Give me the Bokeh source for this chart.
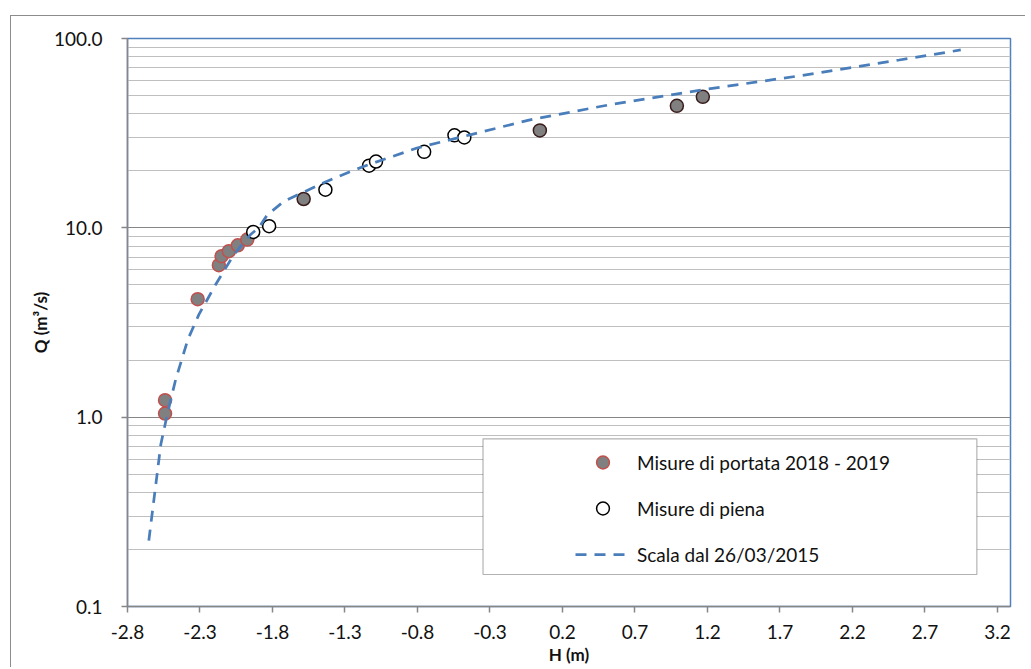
from bokeh.plotting import figure
from bokeh.models import (FixedTicker, PrintfTickFormatter, BoxAnnotation, Legend)
from bokeh.embed import file_html
from bokeh.resources import INLINE

# ---- data ----
portata_h = [-2.541, -2.541, -2.316, -2.170, -2.151, -2.101, -2.039, -1.974]
portata_q = [1.23, 1.045, 4.20, 6.35, 7.08, 7.53, 8.09, 8.67]

other_h = [-1.585, 0.044, 0.989, 1.168]
other_q = [14.2, 32.7, 44.1, 49.2]

piena_h = [-1.933, -1.823, -1.435, -1.134, -1.086, -0.754, -0.545, -0.477]
piena_q = [9.51, 10.2, 15.9, 21.3, 22.4, 25.2, 30.8, 30.0]

scala_h = [-2.653, -2.570, -2.525, -2.467, -2.383, -2.307, -2.192, -2.066, -1.951,
           -1.895, -1.836, -1.722, -1.596, -1.447, -1.286, -1.172, -0.804, -0.437,
           -0.024, 0.526, 1.168, 1.834, 2.522, 2.947]
scala_q = [0.223, 0.72, 1.04, 1.59, 2.58, 3.49, 5.02, 7.23, 9.22,
           10.0, 11.7, 13.8, 15.3, 17.3, 19.5, 21.1, 26.4, 31.0,
           37.2, 44.7, 53.6, 63.5, 77.0, 87.0]

x_ticks = [-2.8, -2.3, -1.8, -1.3, -0.8, -0.3, 0.2, 0.7, 1.2, 1.7, 2.2, 2.7, 3.2]
y_ticks = [0.1, 1.0, 10.0, 100.0]

FONT = "Lato"

p = figure(width=1015, height=652, y_axis_type="log",
           x_range=(-2.8, 3.29), y_range=(0.1, 100.0),
           output_backend="svg", toolbar_location=None,
           min_border_left=116, min_border_right=16, min_border_top=22,
           min_border_bottom=62, margin=(15, 0, 0, 10))
p.styles = {"border-top": "1px solid #8c8c8c", "border-left": "1px solid #8c8c8c"}

p.outline_line_color = "#4F81BD"
p.outline_line_width = 1.5
p.background_fill_color = "white"

# axes
p.xaxis.ticker = FixedTicker(ticks=x_ticks)
p.xaxis.formatter = PrintfTickFormatter(format="%.1f")
p.yaxis.ticker = FixedTicker(ticks=y_ticks,
                             minor_ticks=[m * d for d in (0.1, 1, 10) for m in range(2, 10)])
p.yaxis.formatter = PrintfTickFormatter(format="%.1f")
for ax in (p.xaxis[0], p.yaxis[0]):
    ax.axis_line_color = "#868686"
    ax.axis_line_width = 1.5
    ax.major_tick_line_color = "#868686"
    ax.major_tick_line_width = 1.5
    ax.major_tick_out = 6
    ax.major_tick_in = 0
    ax.minor_tick_line_color = None
    ax.major_label_text_font = FONT
    ax.major_label_text_font_size = "19px"
    ax.major_label_text_color = "#111111"
    ax.axis_label_text_font = FONT
    ax.axis_label_text_font_size = "17px"
    ax.axis_label_text_font_style = "bold"
    ax.axis_label_text_color = "#111111"
p.xaxis.axis_label = "H (m)"
p.yaxis.axis_label = "Q (m³/s)"
p.xaxis.major_label_standoff = 12
p.xaxis.axis_label_standoff = 2
p.yaxis.major_label_standoff = 19
p.yaxis.axis_label_standoff = 0

# grid
p.xgrid.grid_line_color = None
p.ygrid.grid_line_color = "#868686"
p.ygrid.grid_line_width = 1.2
p.ygrid.minor_grid_line_color = "#BFBFBF"
p.ygrid.minor_grid_line_width = 1.2

# legend frame
box = BoxAnnotation(left=-0.348, right=3.058, bottom=0.1476, top=0.768,
                    fill_color="white", fill_alpha=1.0,
                    line_color="black", line_width=1.2, level="annotation")
p.add_layout(box)

r_other = p.scatter(other_h, other_q, size=13, fill_color="#808080",
                    line_color="#3a1c1c", line_width=1.5)
r_portata = p.scatter(portata_h, portata_q, size=13, fill_color="#808080",
                      line_color="#C0504D", line_width=1.5)
r_piena = p.scatter(piena_h, piena_q, size=13, fill_color="white",
                    line_color="black", line_width=1.5)
r_scala = p.line(scala_h, scala_q, line_color="#4A7EBB", line_width=2.75,
                 line_dash="11 8")

legend = Legend(items=[("Misure di portata 2018 - 2019", [r_portata]),
                       ("Misure di piena", [r_piena]),
                       ("Scala dal 26/03/2015", [r_scala])],
                location=(438, 26), orientation="vertical",
                padding=10, spacing=14, glyph_width=55, glyph_height=32,
                label_height=32, label_standoff=7,
                label_text_font=FONT, label_text_font_size="19px",
                label_text_color="#111111",
                background_fill_alpha=0.0, border_line_alpha=0.0)
p.add_layout(legend)

open("out.html", "w").write(file_html(p, INLINE))
